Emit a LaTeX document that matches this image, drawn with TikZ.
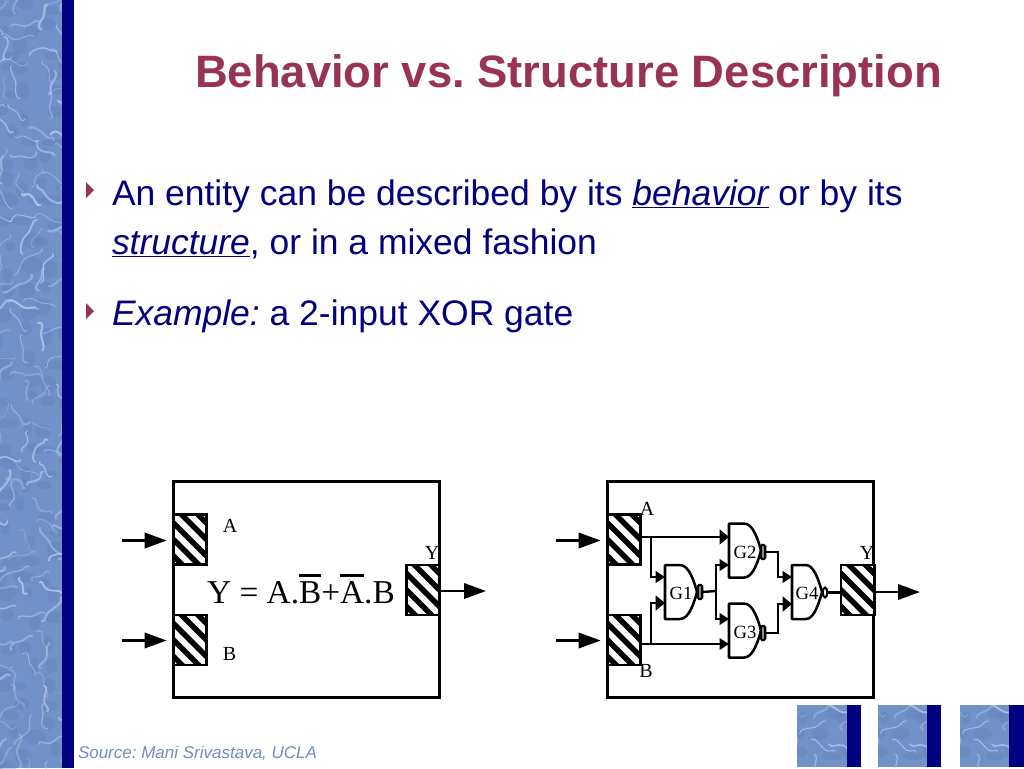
\documentclass[tikz,border=0pt]{standalone}
\usepackage{fontspec}
\setmainfont{Liberation Sans}
\newfontfamily\serifjob{Liberation Serif}
\usetikzlibrary{arrows.meta,calc,shapes.geometric}
\definecolor{water}{HTML}{7092C8}
\definecolor{waterlite}{HTML}{B9CCEC}
\definecolor{waterdark}{HTML}{5E7EB8}
\definecolor{bandnavy}{HTML}{000080}
\definecolor{maroon}{HTML}{993355}
\definecolor{srcblue}{HTML}{6F8FC0}
\newcommand{\ovbar}[1]{{\setbox0\hbox{#1}\rlap{\raisebox{1.22\ht0}{\rule{\wd0}{1.9pt}}}\box0}}
\newcommand{\watertex}[5]{% x0 y0 x1 y1 seed
  \begin{scope}
    \clip (#1,#2) rectangle (#3,#4);
    \fill[water] (#1,#2) rectangle (#3,#4);
    \pgfmathsetseed{#5}
    \pgfmathsetmacro{\xa}{#1}\pgfmathsetmacro{\ya}{#2}
    \pgfmathtruncatemacro{\nx}{(#3-#1)/22+1}
    \pgfmathtruncatemacro{\ny}{(#4-#2)/22+1}
    \foreach \i in {0,...,\nx}{
      \foreach \j in {0,...,\ny}{
        \pgfmathsetmacro{\cx}{\xa+\i*22+rnd*16-8}
        \pgfmathsetmacro{\cy}{\ya+\j*22+rnd*16-8}
        \pgfmathsetmacro{\ang}{rnd*360}
        \pgfmathsetmacro{\lena}{8+rnd*12}
        \pgfmathsetmacro{\lenb}{8+rnd*12}
        \pgfmathsetmacro{\bend}{rnd*90-45}
        \pgfmathsetmacro{\lw}{0.5+rnd*1.2}
        \pgfmathsetmacro{\op}{0.3+rnd*0.55}
        \fill[waterdark,opacity=.35] (\cx+6,\cy+6) circle[x radius=\lena*0.55,y radius=\lenb*0.45];
        \draw[waterlite,line width=\lw pt,opacity=\op,line cap=round]
          (\cx,\cy) ++(\ang:\lena) .. controls +(\ang+100:5) and +(\ang+\bend+20:6) .. (\cx,\cy)
          .. controls +(\ang+\bend+200:6) and +(\ang+\bend+60:5) .. ++(\ang+\bend+180:\lenb);
      }
    }
  \end{scope}
}
\tikzset{
  x=0.75pt,y=-0.75pt,
  every node/.style={inner sep=0pt,outer sep=0pt},
  blockbox/.style={draw=black,line width=2.2pt,fill=white,line join=miter},
  hatchport/.style={draw=black,line width=2pt,fill=white,minimum width=25pt,minimum height=37.5pt,
    path picture={
      \begin{scope}[shift={(path picture bounding box.center)}]
        \foreach \k in {-4,...,4}{
          \draw[black,line width=4pt] (\k*16.5-45,-45) -- (\k*16.5+45,45);
        }
      \end{scope}
    }},
  sigarrow/.style={line width=1.9pt,draw=black,-{Triangle[length=16.5pt,width=11.5pt]},shorten >=5pt},
  outarrow/.style={line width=1.9pt,draw=black,-{Triangle[length=16.5pt,width=11.5pt]}},
  wire/.style={line width=1.8pt,draw=black},
  pinS/.style={wire,-{Triangle[length=7pt,width=8.5pt]}},
  pinL/.style={wire,-{Triangle[length=7pt,width=11pt]}},
  gatebody/.style={minimum width=24pt,minimum height=40.5pt,font=\serifjob\fontsize{14}{15}\selectfont},
  gateline/.style={line width=1.9pt,draw=black,line join=round,yshift=1.1pt},
  bubbleN/.style={draw=black,line width=1.6pt,fill=black!45,rounded corners=1pt,minimum width=3.4pt,minimum height=10.5pt},
  bubbleS/.style={draw=black,line width=1.5pt,fill=white,ellipse,minimum width=3.4pt,minimum height=7.5pt},
  portlabel/.style={font=\serifjob\fontsize{15}{16}\selectfont},
  titletext/.style={anchor=base west,text=maroon,font=\bfseries\fontsize{34.05}{36}\selectfont},
  bodytext/.style={anchor=base west,text=bandnavy,font=\fontsize{26.6}{28}\selectfont},
  srctext/.style={anchor=base west,text=srcblue,font=\itshape\fontsize{12.75}{14}\selectfont},
  bulletmark/.style={fill=maroon,draw=none},
}
\begin{document}
\frenchspacing
\begin{tikzpicture}
\useasboundingbox (0,0) rectangle (1024,768);
\fill[white] (0,0) rectangle (1024,768);
% left band
\watertex{0}{0}{62}{768}{11}
\fill[bandnavy] (62,0) rectangle (74,768);
% thumbnails
\watertex{797}{705}{847}{767}{5}
\fill[bandnavy] (847,705) rectangle (861,767);
\watertex{878}{705}{927}{767}{5}
\fill[bandnavy] (927,705) rectangle (941,767);
\watertex{960}{705}{1009}{767}{5}
\fill[bandnavy] (1009,705) rectangle (1024,767);
% texts
\node[titletext] (title) at (195,87) {Behavior vs. Structure Description};
\fill[bulletmark] (86,182) -- (94,190) -- (86,198) -- cycle;
\node[bodytext] (l1) at (112,205) {An entity can be described by its \underline{\itshape behavior} or by its};
\node[bodytext] (l2) at (112,254) {\underline{\itshape structure}, or in a mixed fashion};
\fill[bulletmark] (86,303) -- (94,311) -- (86,319) -- cycle;
\node[bodytext] (l3) at (112,325) {{\itshape Example:} a 2-input XOR gate};
\node[srctext] (src) at (78,758) {Source: Mani Srivastava, UCLA};
% --- left block
\node[blockbox,minimum width=200pt,minimum height=162.5pt] (blockL) at (306.5,589.5) {};
\node[hatchport] (LA) at (190,539.5) {};
\node[hatchport] (LB) at (190,640) {};
\node[hatchport] (LY) at (423,590) {};
\coordinate (LAin) at (122,540.5);
\coordinate (LBin) at (122,640.5);
\coordinate (LYout) at (486,591);
\draw[sigarrow] (LAin) -- (LAin -| LA.west);
\draw[sigarrow] (LBin) -- (LBin -| LB.west);
\draw[outarrow] (LYout -| LY.east) -- (LYout);
\node[portlabel] (LlA) at (230,526) {A};
\node[portlabel] (LlB) at (229.5,654) {B};
\node[portlabel] (LlY) at (432,553) {Y};
\node[font=\serifjob\fontsize{25}{26}\selectfont,anchor=base] (eq) at (301,603.5) {Y = A.\ovbar{B}+\ovbar{A}.B};
% --- right block
\node[blockbox,minimum width=200pt,minimum height=162.5pt] (blockR) at (740.5,589.5) {};
\node[hatchport] (RA) at (624,539.5) {};
\node[hatchport] (RB) at (624,640) {};
\node[hatchport] (RY) at (857.5,590) {};
\coordinate (RAin) at (556,540.5);
\coordinate (RBin) at (556,640.5);
\coordinate (RYout) at (920,592);
\draw[sigarrow] (RAin) -- (RAin -| RA.west);
\draw[sigarrow] (RBin) -- (RBin -| RB.west);
\draw[outarrow] (RYout -| RY.east) -- (RYout);
\node[portlabel] (RlA) at (647,509) {A};
\node[portlabel] (RlB) at (646,671) {B};
\node[portlabel] (RlY) at (867,553) {Y};
% gates
\node[gatebody] (G1) at (681,593.5) {G1};
\node[gatebody] (G2) at (745,552) {G2};
\node[gatebody] (G3) at (745,632) {G3};
\node[gatebody,minimum width=22.5pt] (G4) at (807,593.5) {G4};
\draw[shift={(G1.north west)},gateline] (0,0) -- (15,0) .. controls (24,0) and (29,16) .. (32,27) .. controls (29,38) and (24,54) .. (15,54) -- (0,54) -- cycle;
\draw[shift={(G2.north west)},gateline] (0,0) -- (15,0) .. controls (24,0) and (29,16) .. (32,27) .. controls (29,38) and (24,54) .. (15,54) -- (0,54) -- cycle;
\draw[shift={(G3.north west)},gateline] (0,0) -- (15,0) .. controls (24,0) and (29,16) .. (32,27) .. controls (29,38) and (24,54) .. (15,54) -- (0,54) -- cycle;
\draw[shift={(G4.north west)},gateline] (0,0) -- (14,0) .. controls (22,0) and (27,16) .. (30,27) .. controls (27,38) and (22,54) .. (14,54) -- (0,54) -- cycle;
\node[bubbleN] (G1b) at (700,592) {};
\node[bubbleN] (G2b) at (763,552) {};
\node[bubbleN] (G3b) at (763,633) {};
\node[bubbleS] (G4b) at (825,592.5) {};
% wires
\coordinate (jA) at (651,537);
\coordinate (jB) at (651,644);
\coordinate (G1i1) at (665,577);
\coordinate (G1i2) at (665,603);
\coordinate (G2i1) at (729,537);
\coordinate (G2i2) at (729,565);
\coordinate (G3i1) at (729,619);
\coordinate (G3i2) at (729,644);
\coordinate (G4i1) at (792,577);
\coordinate (G4i2) at (792,604);
\coordinate (split) at (716,591);
\coordinate (r2) at (778,552);
\coordinate (r3) at (778,633);
\draw[pinL] (jA -| RA.east) -- (G2i1);
\draw[pinS] (jA) |- (G1i1);
\draw[pinL] (jB) |- (G1i2);
\draw[pinS] (jB -| RB.east) -- (G3i2);
\draw[wire] (G1b.east) -- (split);
\draw[pinS] (split) |- (G2i2);
\draw[pinS] (split) |- (G3i1);
\draw[pinS] (G2b.east) -- (r2) |- (G4i1);
\draw[pinL] (G3b.east) -- (r3) |- (G4i2);
\draw[wire] (G4b.east) -- (G4b.east -| RY.west);
\end{tikzpicture}
\end{document}
